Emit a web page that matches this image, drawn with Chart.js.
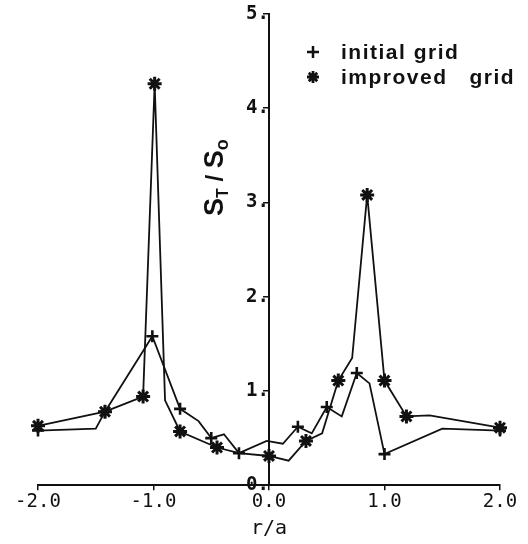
<!DOCTYPE html>
<html lang="en">
<head>
  <meta charset="UTF-8">
  <title>S_T / S_0 versus r/a</title>
  <script src="https://cdn.jsdelivr.net/npm/chart.js"></script>
  <style>
    body { margin: 0; background: #fff; }
  </style>
  <script>
    addEventListener("DOMContentLoaded", init);

    // initial grid: vertices of the polyline, markers only on some of them
    const initialR = [-2.0, -1.5, -1.42, -1.01, -0.77, -0.61, -0.50, -0.39, -0.26, -0.02, 0.12, 0.25, 0.37, 0.50, 0.63, 0.76, 0.87, 1.00, 1.50, 2.00];
    const initialS = [0.58, 0.60, 0.78, 1.58, 0.81, 0.68, 0.50, 0.54, 0.34, 0.47, 0.44, 0.62, 0.55, 0.83, 0.73, 1.19, 1.08, 0.33, 0.60, 0.58];
    const initialMarks = [0, 2, 3, 4, 6, 8, 11, 13, 15, 17, 19];

    // improved grid
    const improvedR = [-2.0, -1.42, -1.09, -0.99, -0.90, -0.77, -0.45, -0.26, 0.0, 0.17, 0.32, 0.46, 0.60, 0.72, 0.85, 1.00, 1.19, 1.39, 2.00];
    const improvedS = [0.63, 0.78, 0.94, 4.26, 0.90, 0.57, 0.40, 0.34, 0.31, 0.26, 0.47, 0.55, 1.11, 1.35, 3.08, 1.11, 0.73, 0.74, 0.61];
    const improvedMarks = [0, 1, 2, 3, 5, 6, 8, 10, 12, 14, 15, 16, 18];

    const seriesLabels = ["initial grid", "improved   grid"];
    const xTicks = [-2, -1, 0, 1, 2];
    const yTicks = [0, 1, 2, 3, 4, 5];

    const ink = "#111";

    function points(rs, ss) {
      return rs.map((r, i) => ({ x: r, y: ss[i] }));
    }

    // legend and the y title with subscripts, drawn inside the plot
    const annotations = {
      id: "annotations",
      afterDraw(chart) {
        const ctx = chart.ctx;
        ctx.save();
        ctx.fillStyle = ink;
        ctx.strokeStyle = ink;

        const styles = [
          { pointStyle: "cross", radius: 6, borderWidth: 2.5 },
          { pointStyle: "star", radius: 6, borderWidth: 2.8 }
        ];
        ctx.font = "bold 21px 'Liberation Sans', Arial, sans-serif";
        ctx.letterSpacing = "1.5px";
        ctx.textBaseline = "alphabetic";
        seriesLabels.forEach((label, i) => {
          const y = 52 + i * 25;
          ctx.lineWidth = styles[i].borderWidth;
          Chart.helpers.drawPoint(ctx, styles[i], 313, y);
          ctx.fillText(label, 341, y + 7);
        });
        ctx.letterSpacing = "0px";

        // S_T / S_o rotated
        ctx.translate(223, 216);
        ctx.rotate(-Math.PI / 2);
        let x = 0;
        const parts = [
          { t: "S", size: 27, dy: 0 },
          { t: "T", size: 16, dy: 5 },
          { t: " / ", size: 24, dy: 0 },
          { t: "S", size: 27, dy: 0 },
          { t: "o", size: 18, dy: 5 }
        ];
        for (let p of parts) {
          ctx.font = "bold " + p.size + "px 'Liberation Sans', Arial, sans-serif";
          ctx.fillText(p.t, x, p.dy);
          x += ctx.measureText(p.t).width;
        }
        ctx.restore();
      }
    };

    function init() {
      const canvas = document.getElementById("chart");
      const lineStyle = {
        borderColor: ink,
        backgroundColor: ink,
        borderWidth: 1.8,
        pointBorderColor: ink,
        pointBackgroundColor: ink,
        pointBorderWidth: 2.6,
        tension: 0,
        clip: false,
        showLine: true
      };

      new Chart(canvas, {
        type: "scatter",
        data: {
          datasets: [
            {
              ...lineStyle,
              label: seriesLabels[0],
              data: points(initialR, initialS),
              pointStyle: "cross",
              pointRadius: ctx => initialMarks.includes(ctx.dataIndex) ? 6 : 0
            },
            {
              ...lineStyle,
              label: seriesLabels[1],
              data: points(improvedR, improvedS),
              pointStyle: "star",
              pointBorderWidth: 3,
              pointRadius: ctx => improvedMarks.includes(ctx.dataIndex) ? 7 : 0
            }
          ]
        },
        options: {
          responsive: false,
          animation: false,
          devicePixelRatio: 1,
          layout: { padding: { left: 38, right: 28, top: 14, bottom: 0 } },
          plugins: {
            legend: { display: false },
            tooltip: { enabled: false }
          },
          scales: {
            x: {
              type: "linear",
              min: -2,
              max: 2,
              afterBuildTicks: axis => { axis.ticks = xTicks.map(v => ({ value: v })); },
              ticks: {
                color: ink,
                padding: 0,
                font: { family: "'DejaVu Sans Mono', monospace", size: 19 },
                callback: v => v.toFixed(1)
              },
              grid: { drawOnChartArea: false, color: ink, lineWidth: 1.5, tickLength: 5 },
              border: { color: ink, width: 2 },
              title: {
                display: true,
                text: "r/a",
                color: ink,
                padding: { top: 4, bottom: 3 },
                font: { family: "'DejaVu Sans Mono', monospace", size: 20 }
              }
            },
            y: {
              type: "linear",
              position: { x: 0 },
              min: 0,
              max: 5,
              afterBuildTicks: axis => { axis.ticks = yTicks.map(v => ({ value: v })); },
              ticks: {
                color: ink,
                padding: 1,
                font: { family: "'DejaVu Sans Mono', monospace", size: 19, weight: "bold" },
                callback: v => v + "."
              },
              grid: { drawOnChartArea: false, color: ink, lineWidth: 1.5, tickLength: 5 },
              border: { color: ink, width: 2 }
            }
          }
        },
        plugins: [annotations]
      });
    }
  </script>
</head>
<body>
  <canvas id="chart" width="528" height="544"></canvas>
</body>
</html>
